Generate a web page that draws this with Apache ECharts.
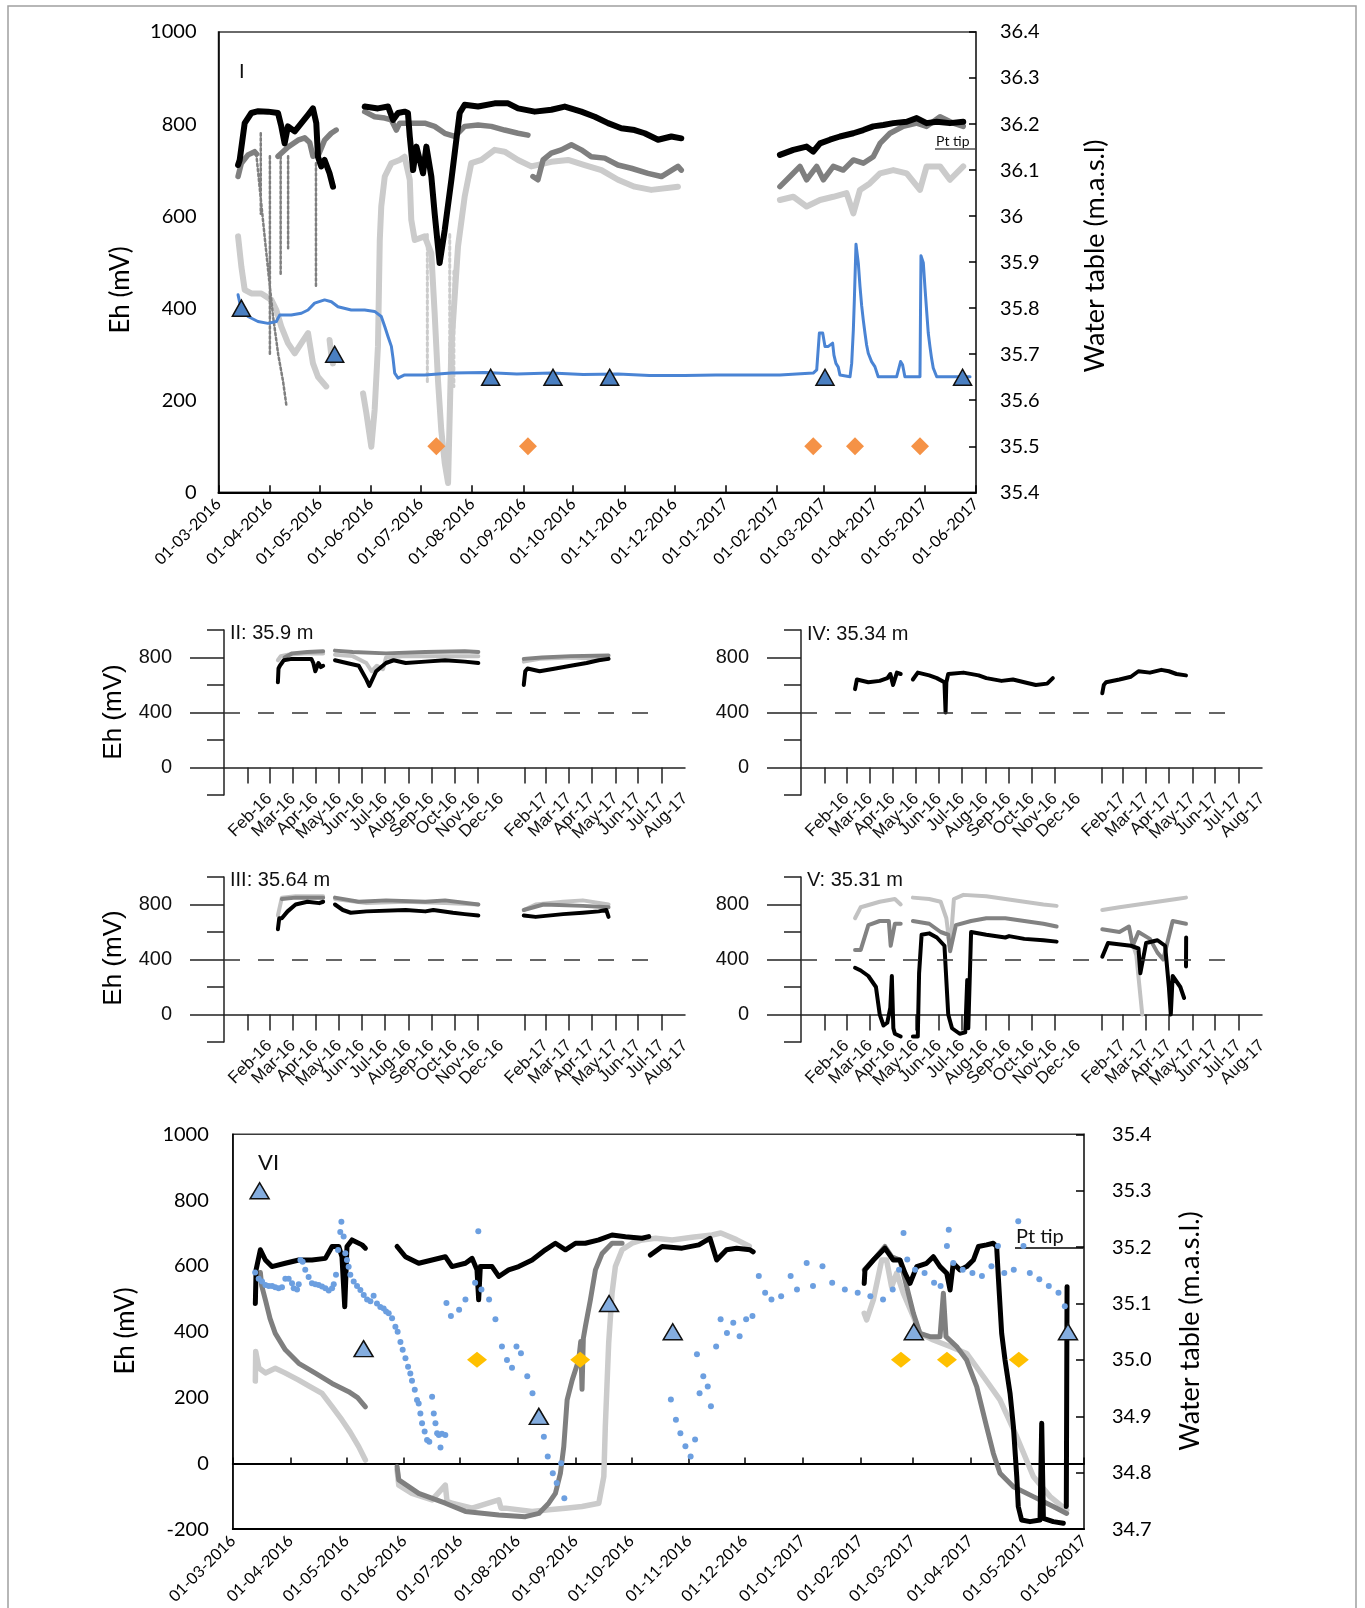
<!DOCTYPE html>
<html>
<head>
<meta charset="utf-8">
<script src="https://cdn.jsdelivr.net/npm/echarts@6/dist/echarts.min.js"></script>
<style>
  html, body { margin: 0; background: #fff; }
  #chart { width: 1365px; height: 1608px; }
</style>
</head>
<body>
<div id="chart"></div>
<script>
// x values are days counted from 1 March 2016

// ticks / labels
const monthDays = [0, 31, 61, 92, 122, 153, 184, 214, 245, 275, 306, 337, 365, 396, 426, 457]
const monthLabels = ['01-03-2016', '01-04-2016', '01-05-2016', '01-06-2016', '01-07-2016', '01-08-2016',
  '01-09-2016', '01-10-2016', '01-11-2016', '01-12-2016', '01-01-2017', '01-02-2017', '01-03-2017',
  '01-04-2017', '01-05-2017', '01-06-2017']
const smallTickDays = [-29, 0, 31, 61, 92, 122, 153, 184, 214, 245, 275, 337, 365, 396, 426, 457, 487, 518]
const smallLabelDays = [0, 31, 61, 92, 122, 153, 184, 214, 245, 275, 306, 365, 396, 426, 457, 487, 518, 549]
const smallLabels = ['Feb-16', 'Mar-16', 'Apr-16', 'May-16', 'Jun-16', 'Jul-16', 'Aug-16', 'Sep-16', 'Oct-16',
  'Nov-16', 'Dec-16', 'Feb-17', 'Mar-17', 'Apr-17', 'May-17', 'Jun-17', 'Jul-17', 'Aug-17']
const threshold = 400

// ---- panel I : Eh (mV) ----
const I_black = [
  [[11.8, 711], [12.8, 722], [15.8, 802], [19.8, 824], [24, 828], [29.9, 827], [35.9, 824], [37.9, 795], [39.9, 758], [41.9, 795], [46, 784], [50, 802], [54, 820], [57, 834], [59, 802], [60, 729], [62, 708], [64, 722], [67, 693], [69.1, 664]],
  [[88.2, 838], [96.2, 834], [102.3, 838], [105.3, 809], [108.3, 824], [112.3, 827], [114.3, 824], [115.4, 773], [117.4, 700], [119.4, 751], [121.4, 722], [123.4, 693], [125.4, 751], [128.4, 686], [130.4, 606], [133.4, 498], [136.5, 570], [140.5, 679], [143.5, 766], [145.5, 824], [148.5, 842], [156.6, 838], [166.6, 845], [174.7, 845], [180.7, 834], [190.8, 827], [200.8, 831], [208.9, 838], [218.9, 827], [227, 816], [235, 802], [243, 791], [251, 787], [257.1, 780], [265.2, 766], [273.2, 773], [279.2, 769]],
  [[338.7, 733], [346.8, 744], [354.8, 751], [358.8, 740], [362.9, 758], [368.9, 766], [374.9, 773], [383, 780], [389, 787], [395, 795], [401.1, 798], [407.1, 802], [415.2, 805], [421.2, 813], [427.2, 802], [433.3, 805], [441.3, 802], [449.3, 805]]
]
const I_dgray = [
  [[11.8, 686], [13.8, 715], [17.8, 733], [21.8, 740], [23, 735]],
  [[35.9, 730], [42, 750], [48, 765], [52, 770], [55, 760], [57, 730]],
  [[60, 730], [64, 765], [68, 780], [71, 787]],
  [[88.2, 827], [94.2, 816], [100.3, 813], [104.3, 809], [107.3, 787], [109.3, 802], [116.3, 802], [124.4, 802], [130.4, 795], [136.5, 780], [142.5, 773], [148.5, 795], [156.6, 798], [164.6, 795], [172.6, 787], [180.7, 780], [186.7, 776]],
  [[189.7, 686], [192.7, 679], [195.8, 722], [200.8, 737], [206.8, 744], [212.9, 755], [218.9, 744], [224.9, 729], [233, 726], [241, 711], [249, 704], [259.1, 693], [267.2, 686], [277.2, 708], [279.2, 700]],
  [[338.7, 664], [344.8, 686], [350.8, 708], [354.8, 679], [360.9, 708], [364.9, 679], [370.9, 708], [376.9, 700], [383, 722], [389, 715], [395, 729], [399.1, 758], [405.1, 780], [413.1, 795], [421.2, 802], [427.2, 795], [435.3, 816], [443.3, 802], [449.3, 795]]
]
const I_dgrayDrops = [
  [[22.8, 735], [26, 620], [30, 480], [33, 380], [36, 300], [39, 240], [40.9, 190]],
  [[25.5, 780], [25.5, 605]],
  [[31, 730], [31, 300]],
  [[37.5, 730], [37.5, 470]],
  [[42, 730], [42, 530]],
  [[58.8, 715], [58.8, 447]]
]
const I_lgray = [
  [[11.8, 556], [13.8, 490], [15.8, 440], [19.8, 432], [25.8, 432], [31.9, 418], [34.9, 396], [37.9, 360], [41.9, 324], [46, 302], [50, 324], [54, 346], [57, 280], [60, 251], [65, 230]],
  [[67, 331], [68, 300], [69, 280]],
  [[87.2, 215], [89.2, 172], [92.2, 99], [94.2, 179], [96.2, 317], [97.3, 548], [98.2, 621], [100.3, 686], [104.3, 715], [109.3, 722], [112.3, 729], [115.4, 679], [116.3, 592], [118.4, 548], [124.4, 556], [128.4, 519], [130.4, 389], [132.4, 244], [134.4, 135], [136.5, 63], [138.5, 20], [140.5, 317], [144.5, 534], [148.5, 642], [152.5, 715], [158.6, 722], [166.6, 744], [172.6, 740], [180.7, 722], [188.7, 708], [200.8, 718], [210.9, 722], [220.9, 711], [231, 700], [241, 679], [251, 664], [261.1, 657], [277.2, 664]],
  [[338.7, 635], [346.8, 642], [354.8, 621], [362.9, 635], [370.9, 642], [378.9, 650], [383, 606], [387, 657], [392.9, 671], [399.1, 693], [407.1, 700], [415.2, 693], [423.2, 657], [427.2, 708], [435.3, 708], [441.3, 679], [449.3, 708]]
]
const I_lgrayDrops = [
  [[126, 560], [126, 240]],
  [[139.5, 560], [139.5, 200]],
  [[142, 480], [142, 230]]
]
// ---- panel I : water table (m.a.s.l.) ----
const I_water = [
  [[11.8, 35.829], [13.8, 35.796], [17.8, 35.782], [23.8, 35.771], [29.9, 35.767], [34.9, 35.771], [36.9, 35.785], [43.9, 35.785], [50, 35.789], [54, 35.796], [58, 35.811], [64, 35.818], [68.1, 35.814], [72.1, 35.803], [80.1, 35.796], [88.2, 35.796], [94.2, 35.793], [98.2, 35.782], [100.3, 35.76], [102.3, 35.738], [104.3, 35.717], [105.3, 35.691], [106.3, 35.659], [108.3, 35.648], [112.3, 35.655], [124.4, 35.655], [140.5, 35.659], [160.6, 35.66], [180, 35.657], [200.8, 35.659], [220, 35.656], [241, 35.657], [260, 35.654], [281.2, 35.654], [300, 35.655], [318.6, 35.655], [338.7, 35.655], [358.8, 35.659], [360.9, 35.666], [362.5, 35.746], [364.5, 35.746], [365.9, 35.717], [367.9, 35.717], [370.5, 35.724], [371.3, 35.698], [372.5, 35.68], [373.9, 35.672], [374.9, 35.655], [381, 35.651], [382, 35.68], [383, 35.753], [383.6, 35.817], [384.6, 35.939], [386, 35.898], [387, 35.848], [388, 35.806], [389, 35.774], [390, 35.746], [391, 35.72], [392, 35.702], [394, 35.684], [396, 35.673], [398, 35.651], [409.1, 35.651], [411.5, 35.684], [412.7, 35.677], [414.1, 35.651], [423.2, 35.651], [423.8, 35.914], [425.2, 35.899], [426.2, 35.845], [427.2, 35.795], [428.2, 35.746], [429.2, 35.717], [430.2, 35.691], [431.2, 35.67], [433.3, 35.651], [453.4, 35.651]]
]
const I_wtManual = [[13.8, 35.8], [70.1, 35.7], [164.2, 35.65], [201.8, 35.65], [236, 35.65], [365.9, 35.65], [448.9, 35.65]]
const I_sampling = [[131.4, 100], [186.7, 100], [358.8, 100], [384, 100], [423.2, 100]]

// ---- panel VI : Eh (mV) ----
const VI_black = [
  [[12.1, 486], [12.5, 588], [14.8, 649], [17.5, 618], [21, 598], [28.2, 608], [35.4, 618], [42.5, 618], [49.7, 623], [53.3, 659], [56.9, 659], [58.6, 628], [60.1, 476], [61.3, 659], [64, 679], [69.4, 664], [71.2, 654]],
  [[88.2, 659], [92.7, 628], [99.8, 608], [107, 618], [114.1, 628], [117.7, 598], [124.9, 608], [128.5, 623], [131.1, 588], [132, 497], [132.9, 598], [139.2, 598], [142.8, 568], [148.1, 588], [153.5, 598], [160.7, 618], [167.8, 649], [173.2, 669], [178.6, 649], [184, 669], [189.3, 669], [196.5, 679], [203.6, 694], [210.8, 689], [219.7, 684], [223.3, 689]],
  [[224.2, 633], [230.5, 659], [241.2, 654], [250.2, 664], [256.2, 684], [259.8, 618], [265.1, 649], [270.5, 654], [277.7, 649], [279.4, 643]],
  [[339, 547], [339.4, 588], [343.9, 618], [350.1, 654], [354.6, 618], [358.2, 618], [360.9, 578], [363.6, 547], [367.2, 598], [372.5, 608], [376.1, 628], [379.7, 598], [383.3, 578], [385.1, 527], [386.8, 608], [390.4, 588], [394, 598], [397.6, 618], [400.3, 659], [404.7, 664], [408.3, 669], [410.1, 659], [411, 567], [412.8, 395], [414.6, 314], [417.3, 213], [419.1, 112], [420.9, -40], [421.7, -131], [423.5, -172], [428, -177], [433.4, -172], [434.3, 122], [435.2, -167], [440.5, -177], [445.9, -182]],
  [[447.5, -131], [447.7, 200], [447.9, 537]]
]
const VI_dgray = [
  [[14.8, 580], [15.5, 540], [17.5, 497], [20, 440], [22.8, 395], [28.2, 345], [35.4, 304], [44.3, 274], [53.3, 243], [62.2, 218], [67, 200], [71.2, 172]],
  [[88.2, -10], [89.1, -50], [99.8, -91], [114.1, -121], [124.9, -146], [142.8, -157], [157.1, -162], [164.3, -152], [169.6, -121], [173.2, -91], [175.9, -30], [177.7, 51], [179.5, 193], [182.2, 253], [185.7, 314], [186.8, 370], [187.5, 225], [188.2, 380], [189.3, 416], [192, 497], [194.7, 588], [198.3, 638], [203.6, 669], [209, 669]],
  [[339, 588], [343.9, 618], [350.1, 659], [353.7, 628], [358.2, 618], [361.8, 537], [365.4, 456], [368.9, 395], [374.3, 385], [379.7, 385], [381.5, 517], [382.9, 385], [388.6, 355], [394, 314], [399.4, 233], [404.7, 112], [408.3, 31], [411.9, -30], [419.1, -71], [429.8, -101], [440.5, -131], [447.7, -152]]
]
const VI_lgray = [
  [[12.1, 250], [12.3, 340], [14, 290], [17.5, 275], [22.8, 289], [28, 275], [35.4, 253], [41, 235], [47.9, 213], [53, 175], [58.6, 132], [63, 95], [67.6, 51], [71.2, 10]],
  [[88.2, -20], [89.1, -66], [96.2, -91], [107, -111], [114.1, -66], [115, -115], [117.7, -121], [128.5, -136], [142.8, -111], [144, -136], [146.4, -136], [160.7, -146], [169.6, -141], [178.6, -136], [187.5, -131], [196.5, -121], [199.2, -40], [200, 112], [201.8, 365], [203.6, 517], [205.4, 598], [209, 649], [214.4, 669], [219.7, 679], [227, 684], [235.9, 679], [246.6, 687], [257.3, 694], [262, 700], [270.4, 680], [277.3, 660]],
  [[339, 456], [340.3, 436], [343.9, 497], [348.4, 618], [351, 618], [353.7, 537], [356.4, 578], [360, 517], [365.4, 446], [368.9, 395], [376.1, 375], [385.1, 355], [394, 334], [403, 264], [411.9, 193], [420.9, 81], [429.8, -40], [438.8, -101], [447.7, -142]]
]
// ---- panel VI : water table (m.a.s.l.) ----
const VI_water = [[12, 35.155], [13.9, 35.144], [15.7, 35.139], [17.5, 35.133], [19.3, 35.131], [21.1, 35.131], [22.8, 35.129], [24.6, 35.127], [26.4, 35.129], [28.2, 35.144], [30, 35.144], [31.8, 35.136], [32.7, 35.127], [34.5, 35.125], [35.4, 35.134], [36.3, 35.177], [37.5, 35.174], [38.9, 35.16], [40.7, 35.147], [42.5, 35.136], [44.3, 35.134], [46.1, 35.133], [47.9, 35.13], [49.7, 35.127], [51.5, 35.123], [53.3, 35.127], [54.2, 35.134], [55.4, 35.151], [56.5, 35.195], [57.7, 35.227], [58.3, 35.245], [59.5, 35.219], [60.4, 35.189], [61.3, 35.177], [62.2, 35.165], [63.1, 35.151], [64.9, 35.139], [66.7, 35.131], [68.5, 35.124], [70.3, 35.115], [72.1, 35.107], [73.9, 35.104], [75.6, 35.114], [77.4, 35.1], [79.2, 35.094], [81, 35.091], [82.3, 35.086], [83.7, 35.083], [85.5, 35.074], [87.3, 35.059], [88.5, 35.05], [90, 35.032], [91.2, 35.018], [92.7, 35.003], [94.1, 34.988], [95.3, 34.976], [96.2, 34.963], [97.7, 34.947], [98.9, 34.929], [99.8, 34.923], [100.7, 34.905], [101.6, 34.888], [103, 34.873], [104.3, 34.858], [105.5, 34.855], [107, 34.935], [107.9, 34.905], [108.8, 34.888], [109.7, 34.87], [110.6, 34.867], [111.5, 34.845], [112.3, 34.869], [114.1, 34.867], [114.7, 35.101], [117.1, 35.078], [121.5, 35.089], [124.9, 35.107], [130.1, 35.137], [131.8, 35.228], [133.5, 35.125], [137.6, 35.107], [141, 35.072], [144.5, 35.024], [147.2, 35.0], [149.9, 34.986], [152.3, 35.024], [154.7, 35.012], [158.1, 34.971], [160.9, 34.941], [164.3, 34.906], [167, 34.864], [169.1, 34.829], [171.8, 34.799], [173.9, 34.782], [176.3, 34.817], [178, 34.755], [235.2, 34.93], [237.9, 34.894], [240.3, 34.87], [243, 34.847], [245.8, 34.829], [248.2, 34.859], [249.2, 35.01], [250.6, 34.941], [252.6, 34.971], [255, 34.953], [256.7, 34.918], [259.5, 35.024], [261.9, 35.072], [265.3, 35.048], [268.7, 35.066], [272.1, 35.042], [275.6, 35.072], [279, 35.078], [282.4, 35.149], [285.8, 35.119], [289.2, 35.107], [294.4, 35.113], [299.5, 35.149], [302.9, 35.125], [308.1, 35.172], [311.5, 35.131], [316.6, 35.166], [321.8, 35.137], [328.6, 35.125], [335.5, 35.119], [342.3, 35.113], [349.1, 35.107], [354.3, 35.125], [357.7, 35.16], [360.1, 35.225], [362.1, 35.178], [366.3, 35.16], [371.4, 35.154], [376.5, 35.137], [380, 35.131], [383.4, 35.202], [384.4, 35.231], [386.8, 35.172], [391.9, 35.16], [397.1, 35.154], [402.2, 35.149], [407.3, 35.166], [410.8, 35.202], [414.2, 35.154], [419.3, 35.16], [421.7, 35.246], [424.5, 35.202], [427.9, 35.154], [433, 35.143], [438.1, 35.131], [443.3, 35.119], [446.7, 35.095]]
const VI_wtManual = [[14.4, 35.3], [70.2, 35.02], [164.3, 34.9], [202, 35.1], [236.2, 35.05], [365.6, 35.05], [448.4, 35.05]]
const VI_sampling = [[131.1, 315], [186.5, 315], [358.7, 315], [383.4, 315], [422, 315]]

// ---- panel II : 35.9 m ----
const II_lgray = [
  [[11.2, 780], [15, 810], [24.2, 820], [50, 830], [71, 830]],
  [[86.6, 820], [110, 810], [128, 760], [135, 700], [142, 740], [150, 715], [154, 800], [180, 810], [232, 810], [276, 810]],
  [[336, 770], [357, 790], [398, 800], [435, 790], [448, 790]]
]
const II_dgray = [
  [[20, 800], [30, 830], [50, 840], [71, 845]],
  [[86.6, 850], [110, 840], [154, 830], [206, 840], [258, 845], [276, 840]],
  [[336, 790], [360, 800], [398, 810], [448, 815]]
]
const II_black = [
  [[11.2, 620], [12, 720], [13.8, 740], [19, 780], [29.4, 790], [55.4, 790], [58, 760], [60.6, 700], [64.8, 760], [68, 730], [71, 740]],
  [[86.6, 780], [102, 760], [118, 740], [128, 641], [132, 593], [141, 700], [154, 760], [164, 780], [180, 760], [206, 770], [232, 780], [258, 770], [276, 760]],
  [[336, 600], [338, 700], [341, 720], [357, 700], [378, 720], [398, 740], [419, 760], [435, 780], [448, 790]]
]
// ---- panel IV : 35.34 m ----
const IV_black = [
  [[11.4, 570], [13.9, 640], [29, 620], [44, 630], [54.1, 650], [58, 680], [61.6, 600], [66.7, 690], [71.7, 680]],
  [[87.8, 640], [94.3, 690], [109.4, 670], [119.4, 650], [129.5, 620], [131, 400], [132, 620], [134.5, 680], [154.6, 690], [174.7, 670], [184.8, 650], [204.9, 630], [220, 640], [235, 620], [250.1, 600], [265.2, 610], [272.7, 650]],
  [[338, 540], [340, 600], [343, 620], [360.7, 640], [375.8, 660], [385.8, 700], [400.9, 690], [416, 710], [426, 700], [436, 680], [448.6, 670]]
]
// ---- panel III : 35.64 m ----
const III_lgray = [
  [[11.2, 720], [16.4, 850], [34.6, 860], [71, 860]],
  [[86.6, 840], [128, 810], [180, 820], [232, 810], [276, 800]],
  [[336, 760], [351.7, 800], [388, 820], [414, 830], [448, 800]]
]
const III_dgray = [
  [[16.4, 840], [34.6, 850], [71, 850]],
  [[86.6, 850], [118, 820], [154, 830], [206, 820], [232, 830], [276, 800]],
  [[336, 760], [362, 800], [414, 790], [448, 780]]
]
const III_black = [
  [[11.2, 620], [13, 700], [16.4, 700], [24, 750], [34.6, 800], [50.2, 820], [65.8, 810], [71, 820]],
  [[86.6, 800], [97, 760], [107.4, 740], [128, 750], [180, 760], [206, 750], [216.5, 760], [242.5, 740], [258, 730], [276, 720]],
  [[336, 720], [351.7, 710], [388, 730], [414, 740], [435, 750], [445, 760], [448, 710]]
]
// ---- panel V : 35.31 m ----
const V_lgray = [
  [[11.4, 700], [18.9, 780], [44, 820], [64, 840], [71.7, 800]],
  [[87.8, 850], [109.4, 840], [124.5, 820], [132, 700], [137, 480], [142, 840], [154.6, 870], [184.8, 860], [209.9, 840], [235, 820], [260.2, 800], [277.7, 790]],
  [[338, 760], [360.7, 780], [410.9, 820], [436, 840], [448.6, 850]],
  [[375.8, 560], [383, 430], [390.8, 0]]
]
const V_dgray = [
  [[11.4, 470], [18.9, 470], [29, 650], [44, 680], [56, 680], [58.5, 500], [64, 660], [71.7, 660]],
  [[87.8, 680], [109.4, 660], [124.5, 600], [134.5, 580], [137, 460], [144.6, 650], [164.7, 680], [184.8, 700], [209.9, 700], [235, 680], [260.2, 660], [277.7, 640]],
  [[338, 620], [360.7, 600], [373.2, 640], [378.3, 500], [385.8, 600], [400.9, 550], [410.9, 450], [418.5, 400], [431, 680], [448.6, 660]]
]
const V_black = [
  [[11.4, 340], [18.9, 320], [29, 280], [39, 200], [44, 0], [49, -80], [54, -60], [58, 50], [60, 280], [62, -100], [64, -140], [71.7, -160]],
  [[87.8, -160], [94.3, -160], [96, 300], [99.3, 580], [109.4, 590], [119.4, 560], [129.5, 500], [134.5, 0], [139.5, -100], [149.6, -140], [157, -130], [159.6, 250], [161, -100], [164.7, 600], [184.8, 580], [209.9, 560], [214.9, 570], [235, 550], [260.2, 540], [277.7, 530]],
  [[338, 420], [345.6, 520], [375.8, 500], [385.8, 480], [388.3, 300], [395.9, 520], [410.9, 540], [421, 500], [426, 200], [428.5, 0], [431, 280], [441.1, 200], [446.1, 120]],
  [[448.6, 350], [448.8, 560]]
]

// ---------------------------------------------------------------
const FONT_A = 'Lato, "Noto Sans", sans-serif'
const FONT_B = '"Liberation Sans", Arial, sans-serif'
const BLACK = '#000000'
const DGRAY = '#7f7f7f'
const LGRAY = '#cbcbcb'

function joinSegs (segs) {
  const out = []
  segs.forEach((s, i) => {
    if (i > 0) out.push([s[0][0], '-'])
    s.forEach(p => out.push(p))
  })
  return out
}

function line (xi, yi, segs, color, width, z, dotted) {
  return {
    type: 'line',
    xAxisIndex: xi,
    yAxisIndex: yi,
    data: joinSegs(segs),
    showSymbol: false,
    symbol: 'none',
    connectNulls: false,
    silent: true,
    z: z,
    lineStyle: { color: color, width: width, type: dotted ? 'dotted' : 'solid', cap: 'round', join: 'round' }
  }
}

function marks (xi, yi, data, symbol, size, color, border, z) {
  return {
    type: 'scatter',
    xAxisIndex: xi,
    yAxisIndex: yi,
    data: data,
    symbol: symbol,
    symbolSize: size,
    silent: true,
    z: z,
    itemStyle: { color: color, borderColor: border || color, borderWidth: border ? 1.5 : 0, opacity: 1 }
  }
}

const grids = [
  { left: 218.5, top: 32, width: 757.5, height: 460.3, show: true, borderColor: '#3a3a3a', borderWidth: 1.5 },
  { left: 232.8, top: 1134.3, width: 851.2, height: 394.9, show: true, borderColor: '#3a3a3a', borderWidth: 1.5 },
  { left: 224, top: 630, width: 461, height: 165 },
  { left: 801, top: 630, width: 461, height: 165 },
  { left: 224, top: 877, width: 461, height: 165 },
  { left: 801, top: 877, width: 461, height: 165 }
]

const bigLabel = { customValues: monthDays, formatter: v => monthLabels[monthDays.indexOf(v)], rotate: 45, margin: 9,
  fontFamily: FONT_A, fontSize: 16, color: '#000' }

const xAxes = [
  { gridIndex: 0, type: 'value', min: 0, max: 457, splitLine: { show: false },
    axisLine: { onZero: false, lineStyle: { color: BLACK, width: 2 } },
    axisTick: { inside: true, length: 7, customValues: monthDays, lineStyle: { color: BLACK, width: 1.5 } },
    axisLabel: bigLabel },
  { gridIndex: 1, type: 'value', min: 0, max: 457, splitLine: { show: false },
    axisLine: { onZero: false, lineStyle: { color: BLACK, width: 2 } },
    axisTick: { show: false },
    axisLabel: bigLabel },
  { gridIndex: 1, type: 'value', min: 0, max: 457, position: 'bottom', splitLine: { show: false },
    axisLine: { onZero: true, onZeroAxisIndex: 2, lineStyle: { color: BLACK, width: 2 } },
    axisTick: { inside: true, length: 6, customValues: monthDays, lineStyle: { color: BLACK, width: 1.5 } },
    axisLabel: { show: false } }
]
const yAxes = [
  { gridIndex: 0, type: 'value', min: 0, max: 1000, interval: 200, splitLine: { show: false },
    axisLine: { show: true, onZero: false, lineStyle: { color: BLACK, width: 1.5 } }, axisTick: { show: false },
    axisLabel: { margin: 22, fontFamily: FONT_A, fontSize: 20, color: '#000', formatter: v => String(v) } },
  { gridIndex: 0, type: 'value', position: 'right', min: 35.4, max: 36.4, interval: 0.1, splitLine: { show: false },
    axisLine: { show: true, onZero: false, lineStyle: { color: '#3a3a3a', width: 1.5 } },
    axisTick: { inside: true, length: 7, lineStyle: { color: BLACK, width: 1.5 } },
    axisLabel: { margin: 24, fontFamily: FONT_A, fontSize: 20, color: '#000', formatter: v => String(+v.toFixed(1)) } },
  { gridIndex: 1, type: 'value', min: -200, max: 1000, interval: 200, splitLine: { show: false },
    axisLine: { show: true, onZero: false, lineStyle: { color: BLACK, width: 1.5 } }, axisTick: { show: false },
    axisLabel: { margin: 24, fontFamily: FONT_A, fontSize: 20, color: '#000', formatter: v => String(v) } },
  { gridIndex: 1, type: 'value', position: 'right', min: 34.7, max: 35.4, interval: 0.1, splitLine: { show: false },
    axisLine: { show: true, onZero: false, lineStyle: { color: '#3a3a3a', width: 1.5 } },
    axisTick: { inside: true, length: 8, lineStyle: { color: BLACK, width: 1.5 } },
    axisLabel: { margin: 28, fontFamily: FONT_A, fontSize: 20, color: '#000', formatter: v => v.toFixed(1) } }
]

// small panels II, IV, III, V
const smallNames = ['II: 35.9 m', 'IV: 35.34 m', 'III: 35.64 m', 'V: 35.31 m']
for (let k = 0; k < 4; k++) {
  const g = k + 2
  yAxes.push({ gridIndex: g, type: 'value', position: 'left', min: -200, max: 1000, splitLine: { show: false },
    axisLine: { show: true, onZero: false, lineStyle: { color: '#222', width: 1.5 } },
    axisTick: { customValues: [0, 400, 800], length: 34, lineStyle: { color: '#222', width: 1.5 } },
    axisLabel: { customValues: [0, 400, 800], margin: 52, fontFamily: FONT_B, fontSize: 20, color: '#111' } })
}
for (let k = 0; k < 4; k++) {
  const g = k + 2
  yAxes.push({ gridIndex: g, type: 'value', position: 'left', min: -200, max: 1000, splitLine: { show: false },
    axisLine: { show: false, onZero: false },
    axisTick: { customValues: [-200, 200, 600, 1000], length: 17, lineStyle: { color: '#222', width: 1.5 } },
    axisLabel: { show: false } })
}
// month labels are split over two overlaid axes (alternating) so none is dropped as overlapping
const evenDays = smallLabelDays.filter((d, i) => i % 2 === 0)
const oddDays = smallLabelDays.filter((d, i) => i % 2 === 1)
const smallFmt = v => smallLabels[smallLabelDays.indexOf(v)]
for (let k = 0; k < 4; k++) {
  const g = k + 2
  const lab = { formatter: smallFmt, showMinLabel: true, showMaxLabel: true,
    rotate: 45, margin: 1, fontFamily: FONT_B, fontSize: 17, color: '#111' }
  xAxes.push({ gridIndex: g, type: 'value', min: -60, max: 549, position: 'bottom', splitLine: { show: false },
    axisLine: { onZero: true, onZeroAxisIndex: 4 + k, lineStyle: { color: '#222', width: 1.5 } },
    axisTick: { customValues: smallTickDays, length: 16, lineStyle: { color: '#222', width: 1.5 } },
    axisLabel: Object.assign({ customValues: evenDays }, lab) })
  xAxes.push({ gridIndex: g, type: 'value', min: -60, max: 549, position: 'bottom', splitLine: { show: false },
    axisLine: { show: false, onZero: true, onZeroAxisIndex: 4 + k },
    axisTick: { show: false },
    axisLabel: Object.assign({ customValues: oddDays }, lab) })
}

const series = [
  // panel I
  line(0, 0, I_lgray, LGRAY, 6, 2),
  line(0, 0, I_lgrayDrops, LGRAY, 3, 2, true),
  line(0, 0, I_dgray, DGRAY, 5.5, 3),
  line(0, 0, I_dgrayDrops, DGRAY, 2.5, 3, true),
  line(0, 0, I_black, BLACK, 6, 4),
  line(0, 1, I_water, '#4a84d4', 3, 5),
  marks(0, 1, I_wtManual, 'triangle', [18, 16], '#4a7fc1', '#111', 6),
  marks(0, 0, I_sampling, 'diamond', [18, 18], '#f59246', null, 6),
  // panel VI
  line(1, 2, VI_lgray, LGRAY, 5.5, 2),
  line(1, 2, VI_dgray, DGRAY, 5, 3),
  line(1, 2, VI_black, BLACK, 5, 4),
  marks(1, 3, VI_water, 'circle', 6, '#6c9fe0', null, 5),
  marks(1, 3, VI_wtManual, 'triangle', [19, 16], '#84addf', '#111', 6),
  marks(1, 2, VI_sampling, 'diamond', [20, 16], '#ffc000', null, 6)
]

const dashLine = {
  symbol: 'none', silent: true, label: { show: false },
  lineStyle: { type: [16, 18], color: '#333', width: 1.5 },
  data: [[{ coord: [-60, threshold] }, { coord: [520, threshold] }]]
}
const smallSets = [
  [II_lgray, II_dgray, II_black],
  [[], [], IV_black],
  [III_lgray, III_dgray, III_black],
  [V_lgray, V_dgray, V_black]
]
smallSets.forEach((set, k) => {
  const xi = 3 + 2 * k
  const yi = 4 + k
  const base = line(xi, yi, set[0], '#c2c2c2', 4, 2)
  base.markLine = dashLine
  series.push(base)
  series.push(line(xi, yi, set[1], '#828282', 4, 3))
  series.push(line(xi, yi, set[2], BLACK, 4, 4))
})

function vtext (x, y, text, font) {
  return { type: 'text', x: x, y: y, rotation: Math.PI / 2, silent: true,
    style: { text: text, font: font, fill: '#000', align: 'center', verticalAlign: 'middle' } }
}
function htext (x, y, text, font) {
  return { type: 'text', x: x, y: y, silent: true,
    style: { text: text, font: font, fill: '#111', align: 'left', verticalAlign: 'middle' } }
}

const graphic = [
  { type: 'rect', shape: { x: 8, y: 6, width: 1348, height: 1640 }, silent: true, z: -1,
    style: { fill: 'none', stroke: '#a0a0a0', lineWidth: 1.5 } },
  vtext(121, 290, 'Eh (mV)', '26px ' + FONT_A),
  vtext(1095, 256, 'Water table (m.a.s.l)', '27px ' + FONT_A),
  htext(239, 72, 'I', '20px ' + FONT_A),
  htext(936, 141, 'Pt tip', '14px ' + FONT_A),
  { type: 'line', silent: true, shape: { x1: 935, y1: 149, x2: 975, y2: 149 }, style: { stroke: '#000', lineWidth: 1.2 } },
  vtext(126, 1331, 'Eh (mV)', '26px ' + FONT_A),
  vtext(1190, 1331, 'Water table (m.a.s.l.)', '27px ' + FONT_A),
  htext(258, 1163, 'VI', '22px ' + FONT_A),
  htext(1016, 1237, 'Pt tip', '20px ' + FONT_A),
  { type: 'line', silent: true, shape: { x1: 1015, y1: 1248, x2: 1084, y2: 1248 }, style: { stroke: '#000', lineWidth: 1.5 } },
  vtext(114, 712, 'Eh (mV)', '26px ' + FONT_B),
  vtext(114, 958, 'Eh (mV)', '26px ' + FONT_B),
  htext(230, 633, smallNames[0], '20px ' + FONT_B),
  htext(807, 634, smallNames[1], '20px ' + FONT_B),
  htext(230, 880, smallNames[2], '20px ' + FONT_B),
  htext(807, 880, smallNames[3], '20px ' + FONT_B)
]

const myChart = echarts.init(document.getElementById('chart'))
myChart.setOption({
  animation: false,
  backgroundColor: '#fff',
  grid: grids,
  xAxis: xAxes,
  yAxis: yAxes,
  series: series,
  graphic: graphic
})
</script>
</body>
</html>
